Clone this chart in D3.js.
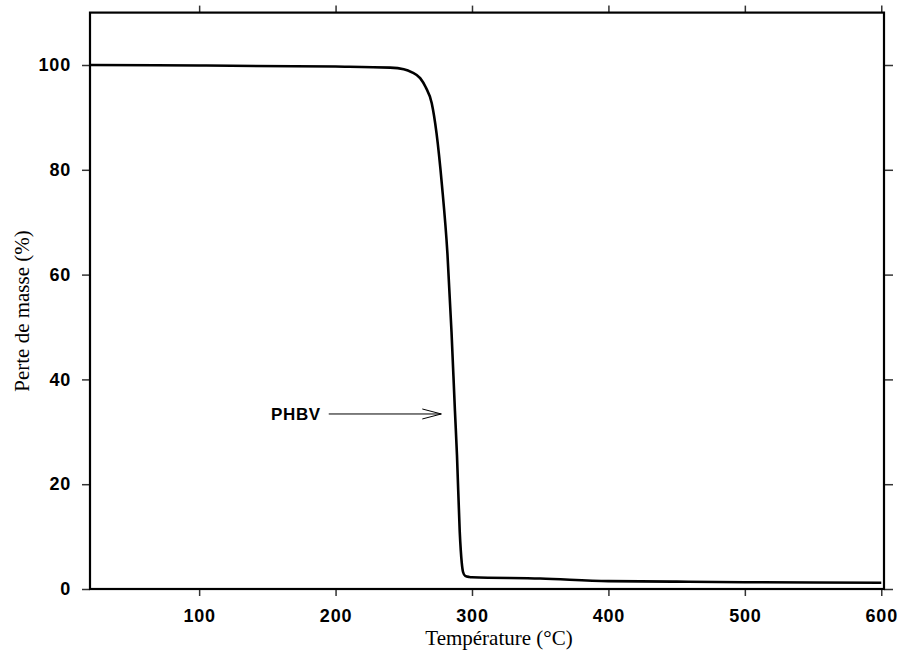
<!DOCTYPE html>
<html>
<head>
<meta charset="utf-8">
<script src="https://cdn.jsdelivr.net/npm/d3@7"></script>
<style>
  body { margin: 0; background: #fff; }
  svg { display: block; }
</style>
</head>
<body>
<div id="chart"></div>
<script>
// courbe ATG du PHBV
var temperature = [20, 100, 200, 240, 250, 256, 262, 266, 270.5, 274, 278, 282, 285, 287.5, 289, 291, 292.5, 293.5, 295, 298, 300, 350, 400, 450, 500, 550, 600];
var masse = [100, 99.9, 99.7, 99.5, 99.2, 98.6, 97.5, 95.8, 92.7, 87, 77, 64, 49, 34, 25.5, 11, 5, 3.2, 2.5, 2.3, 2.25, 2.0, 1.5, 1.4, 1.3, 1.25, 1.2];

var xTicks = [100, 200, 300, 400, 500, 600];
var yTicks = [0, 20, 40, 60, 80, 100];

var annotation = {label: "PHBV", from: 195, to: 277.5, at: 33.4};

const width = 900, height = 653;
const margin = {top: 12.6, right: 16, bottom: 64, left: 90};

var x = d3.scaleLinear().domain([20, 602]).range([margin.left, width - margin.right]);
var y = d3.scaleLinear().domain([0, 110]).range([height - margin.bottom, margin.top]);

var svg = d3.select("#chart").append("svg")
    .attr("width", width)
    .attr("height", height);

var tickFont = "'Liberation Sans', Arial, sans-serif";
var titleFont = "'Liberation Serif', 'Times New Roman', serif";

// axes (ticks outside on all four sides)
function styleAxis(g) {
    g.select(".domain").remove();
    g.selectAll(".tick line").attr("stroke", "#333").attr("stroke-width", 1.5);
    g.selectAll(".tick text")
        .attr("fill", "#000")
        .style("font-family", tickFont)
        .style("font-weight", "bold")
        .style("font-size", "18px")
        .style("letter-spacing", "0.8px");
}

svg.append("g")
    .attr("transform", "translate(0," + y(0) + ")")
    .call(d3.axisBottom(x).tickValues(xTicks).tickSize(7).tickPadding(13).tickSizeOuter(0))
    .call(styleAxis);

svg.append("g")
    .attr("transform", "translate(0," + y(110) + ")")
    .call(d3.axisTop(x).tickValues(xTicks).tickSize(7).tickFormat("").tickSizeOuter(0))
    .call(styleAxis);

svg.append("g")
    .attr("transform", "translate(" + x(20) + ",0)")
    .call(d3.axisLeft(y).tickValues(yTicks).tickSize(8).tickPadding(11).tickSizeOuter(0))
    .call(styleAxis);

svg.append("g")
    .attr("transform", "translate(" + x(602) + ",0)")
    .call(d3.axisRight(y).tickValues(yTicks).tickSize(9).tickFormat("").tickSizeOuter(0))
    .call(styleAxis);

// cadre
svg.append("rect")
    .attr("x", x(20))
    .attr("y", y(110))
    .attr("width", x(602) - x(20))
    .attr("height", y(0) - y(110))
    .attr("fill", "none")
    .attr("stroke", "#000")
    .attr("stroke-width", 2.2);

// courbe
var line = d3.line()
    .x(function(d, i) { return x(temperature[i]); })
    .y(function(d) { return y(d); })
    .curve(d3.curveMonotoneX);

svg.append("path")
    .datum(masse)
    .attr("d", line)
    .attr("fill", "none")
    .attr("stroke", "#000")
    .attr("stroke-width", 2.6)
    .attr("stroke-linejoin", "round");

// flèche PHBV
var ay = y(annotation.at);
svg.append("text")
    .attr("x", x(annotation.from) - 8)
    .attr("y", ay + 6)
    .attr("text-anchor", "end")
    .style("font-family", tickFont)
    .style("font-weight", "bold")
    .style("font-size", "17px")
    .style("letter-spacing", "0.6px")
    .text(annotation.label);

svg.append("line")
    .attr("x1", x(annotation.from)).attr("y1", ay)
    .attr("x2", x(annotation.to)).attr("y2", ay)
    .attr("stroke", "#000").attr("stroke-width", 1);

svg.append("path")
    .attr("d", "M" + (x(annotation.to) - 19) + "," + (ay - 5) + "L" + x(annotation.to) + "," + ay + "L" + (x(annotation.to) - 19) + "," + (ay + 5))
    .attr("fill", "none")
    .attr("stroke", "#000")
    .attr("stroke-width", 1);

// titres
svg.append("text")
    .attr("x", 499)
    .attr("y", 645)
    .attr("text-anchor", "middle")
    .style("font-family", titleFont)
    .style("font-size", "21px")
    .text("Température (°C)");

svg.append("text")
    .attr("transform", "translate(29," + 311 + ") rotate(-90)")
    .attr("text-anchor", "middle")
    .style("font-family", titleFont)
    .style("font-size", "21px")
    .text("Perte de masse (%)");
</script>
</body>
</html>
